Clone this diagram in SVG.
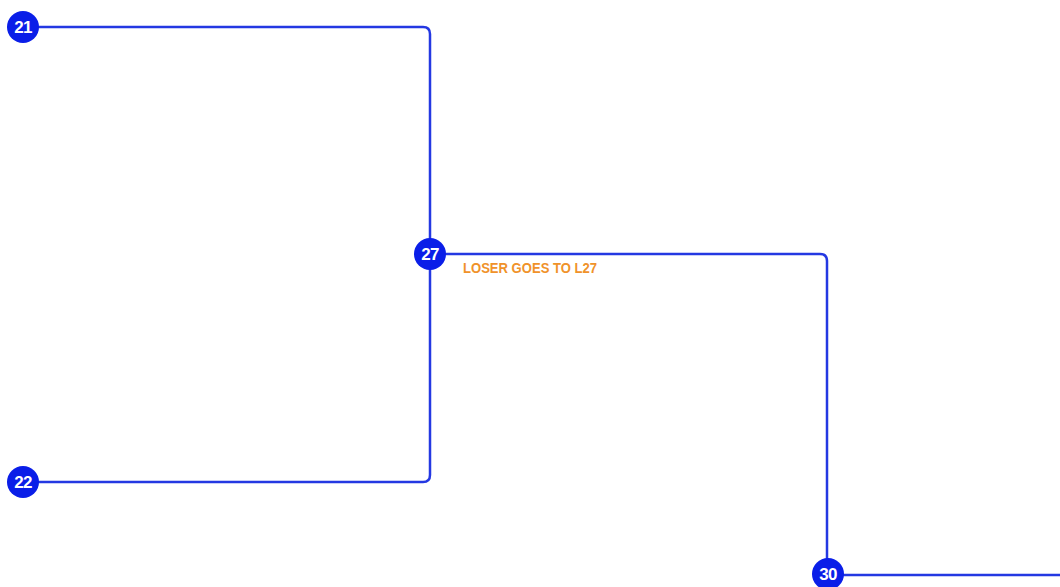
<svg xmlns="http://www.w3.org/2000/svg" width="1060" height="587" viewBox="0 0 1060 587">
<style>
.conn{fill:none;stroke:#2438e2;stroke-width:2.5;stroke-linecap:round}
.node circle{fill:#0a1ee8}
.node text{fill:#fff;font-family:"Liberation Sans",Arial,sans-serif;font-weight:bold;font-size:17px;text-anchor:middle;letter-spacing:-0.8px}
.lbl{fill:#f0922a;font-family:"Liberation Sans",Arial,sans-serif;font-weight:bold;font-size:14px}
</style>
<rect width="1060" height="587" fill="#fff"/>
<g id="connectors">
<path class="conn" d="M39,27 H423 Q430,27 430,34 V253"/>
<path class="conn" d="M39,482 H423 Q430,482 430,475 V253"/>
<path class="conn" d="M446,254 H820 Q827,254 827,261 V574"/>
<path class="conn" d="M844,575 H1060"/>
</g>
<g id="node-21" class="node"><circle cx="23" cy="27" r="16"/><text x="23" y="33">21</text></g>
<g id="node-22" class="node"><circle cx="23" cy="482" r="16"/><text x="23" y="488">22</text></g>
<g id="node-27" class="node"><circle cx="430" cy="254" r="16"/><text x="430" y="260">27</text></g>
<g id="node-30" class="node"><circle cx="828" cy="574" r="16"/><text x="828" y="580">30</text></g>
<text class="lbl" x="463" y="273" textLength="134" lengthAdjust="spacingAndGlyphs">LOSER GOES TO L27</text>
</svg>
